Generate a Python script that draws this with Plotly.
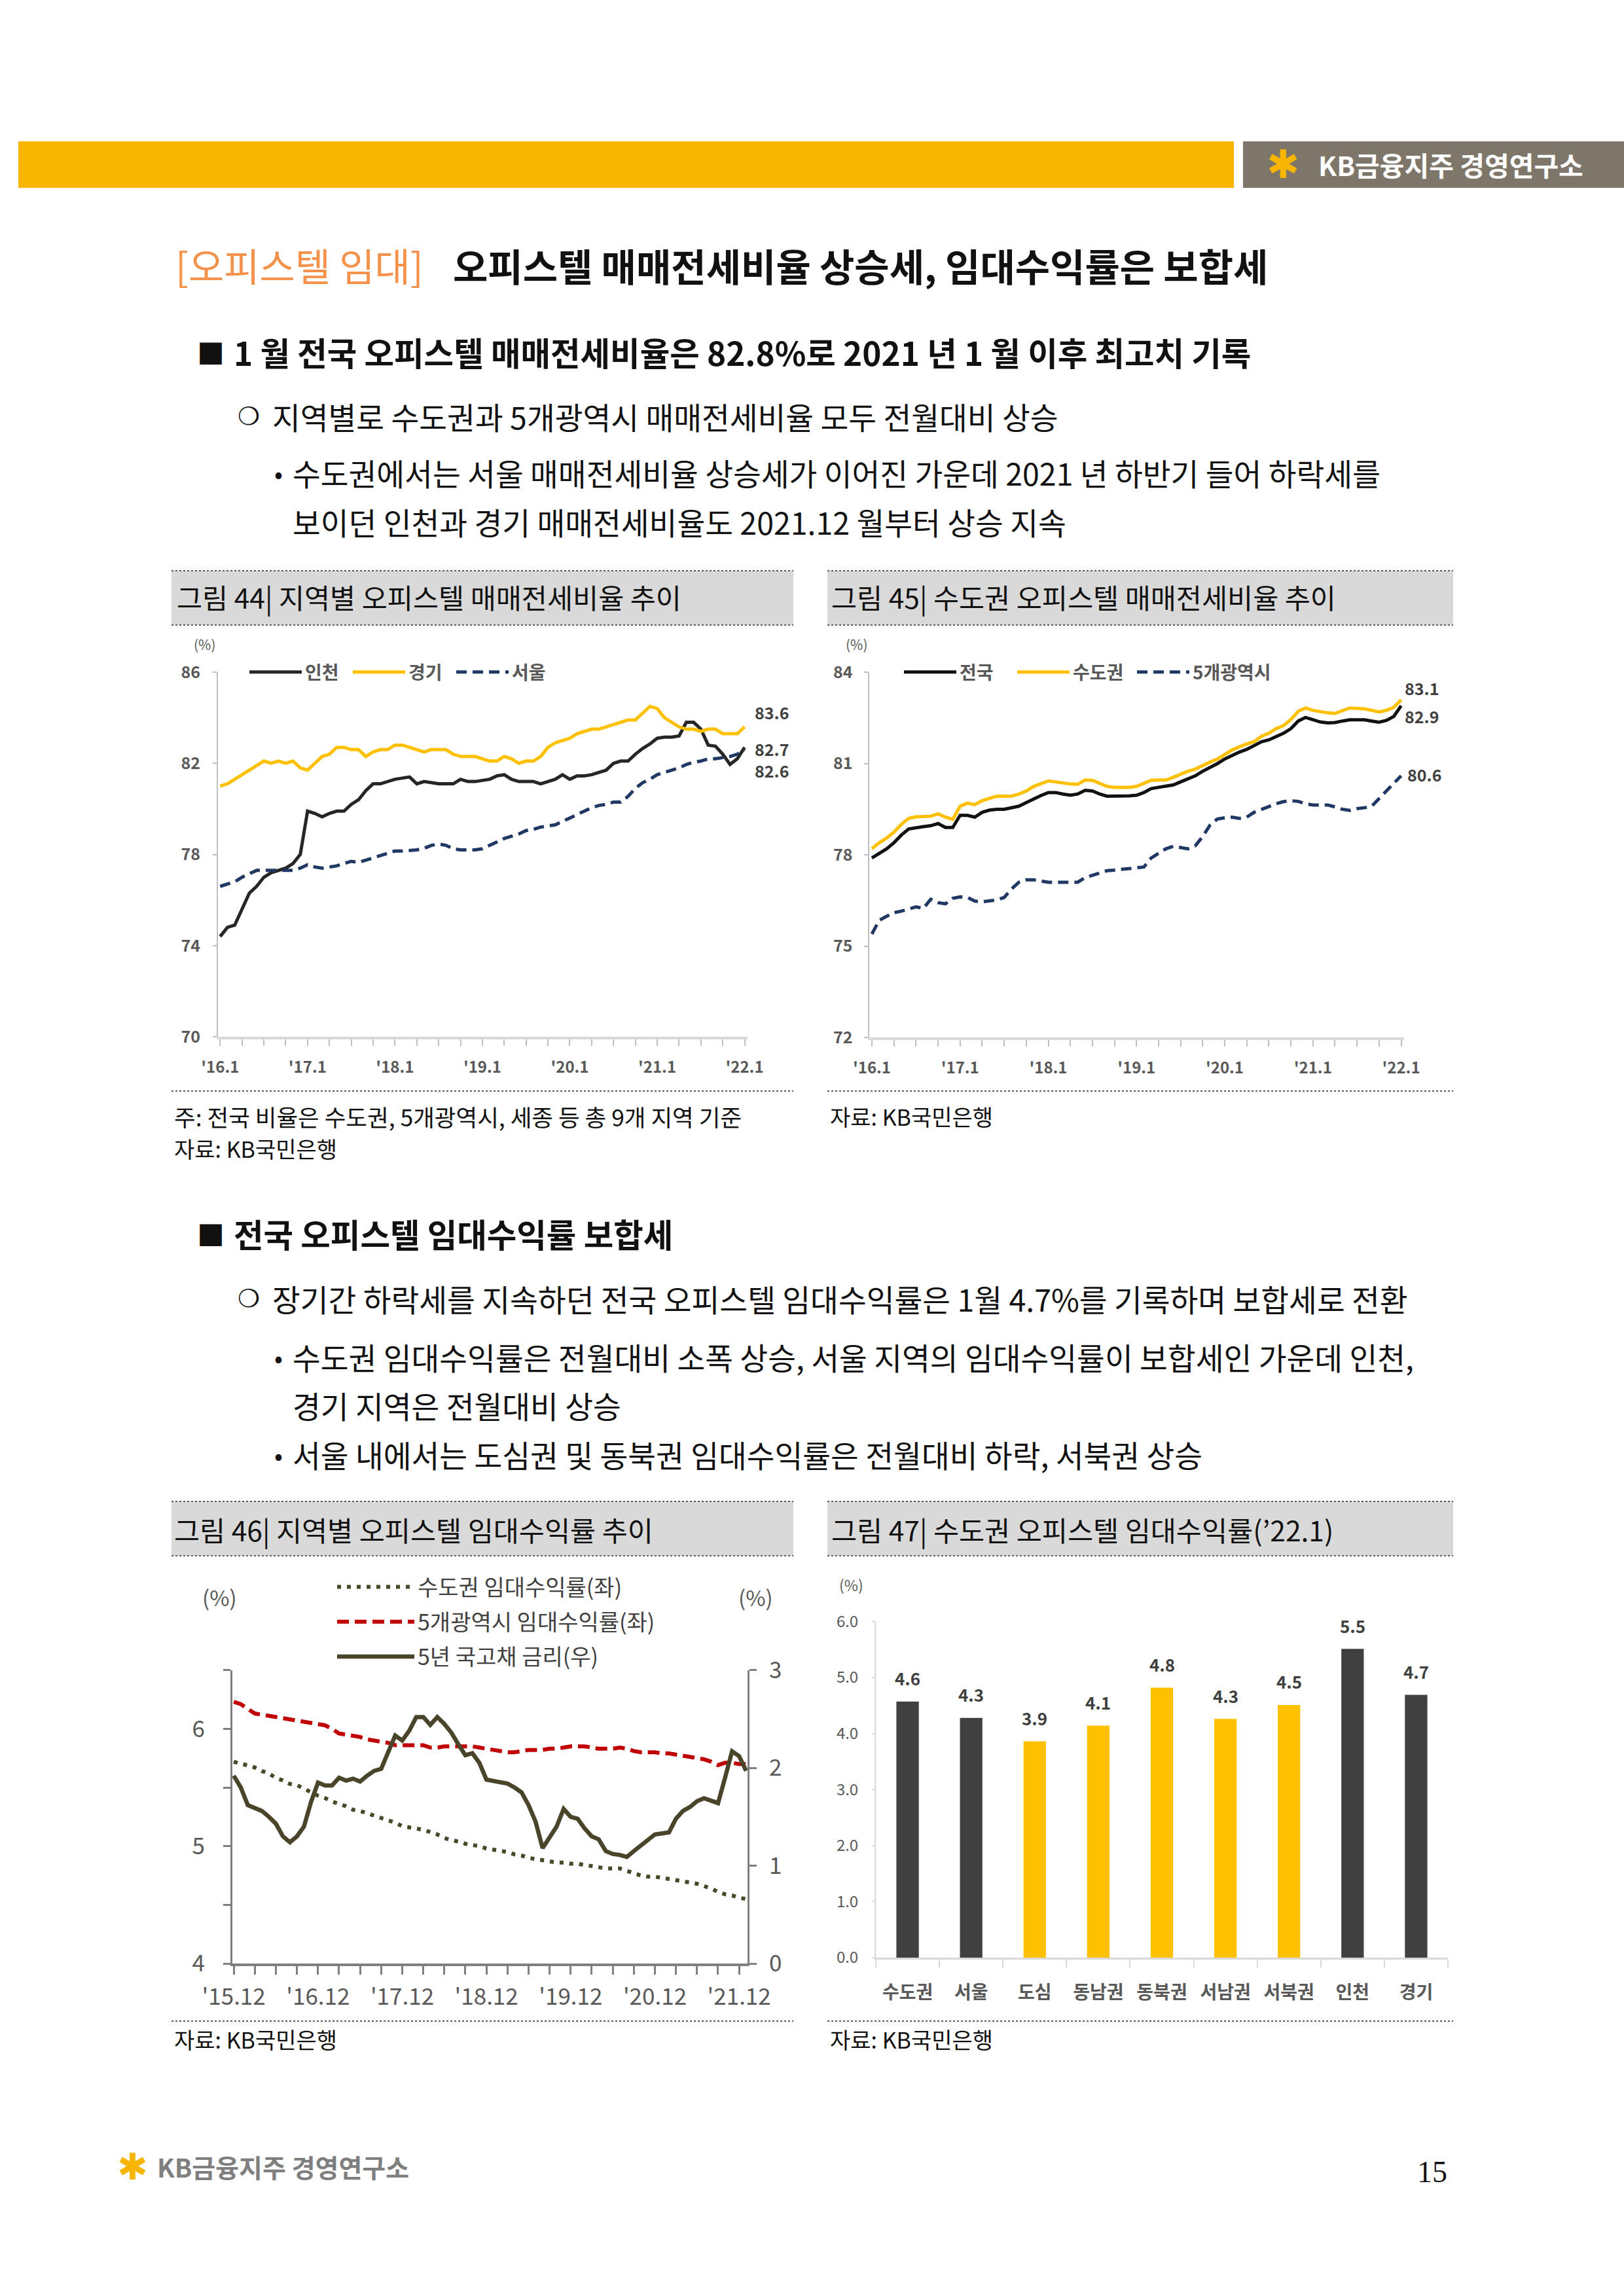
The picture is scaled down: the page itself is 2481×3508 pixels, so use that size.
import plotly.graph_objects as go

W, H = 2481, 3508
KR = "Noto Sans CJK KR"
GRAY = "#595959"


def fx(p):
    return p / W


def fy(p):
    return 1 - p / H


# ---------------- DATA ----------------
months = list(range(73))            # 2016.1 .. 2022.1
month_labels = ["'16.1", "'17.1", "'18.1", "'19.1", "'20.1", "'21.1", "'22.1"]

incheon = [74.4, 74.8, 74.9, 75.6, 76.3, 76.6, 77.0, 77.2, 77.3, 77.4, 77.6, 78.0,
           79.9, 79.8, 79.65, 79.8, 79.9, 79.9, 80.2, 80.4, 80.8, 81.1, 81.1, 81.2,
           81.3, 81.35, 81.4, 81.1, 81.2, 81.15, 81.1, 81.1, 81.1, 81.3, 81.2, 81.2,
           81.25, 81.3, 81.45, 81.5, 81.3, 81.2, 81.2, 81.2, 81.1, 81.2, 81.3, 81.5,
           81.3, 81.45, 81.45, 81.5, 81.6, 81.7, 82.0, 82.1, 82.1, 82.4, 82.65, 82.85,
           83.1, 83.15, 83.15, 83.2, 83.8, 83.8, 83.5, 82.8, 82.75, 82.4, 81.95, 82.2,
           82.7]
gyeonggi = [81.0, 81.1, 81.3, 81.5, 81.7, 81.9, 82.1, 82.0, 82.1, 82.0, 82.1, 81.8,
            81.7, 82.0, 82.3, 82.4, 82.7, 82.7, 82.6, 82.6, 82.3, 82.5, 82.6, 82.6,
            82.8, 82.8, 82.7, 82.6, 82.5, 82.6, 82.6, 82.6, 82.4, 82.3, 82.3, 82.3,
            82.2, 82.1, 82.1, 82.3, 82.2, 82.0, 82.1, 82.1, 82.3, 82.7, 82.9, 83.0,
            83.1, 83.3, 83.4, 83.5, 83.5, 83.6, 83.7, 83.8, 83.9, 83.9, 84.2, 84.5,
            84.4, 84.0, 83.8, 83.6, 83.5, 83.5, 83.4, 83.5, 83.5, 83.3, 83.3, 83.3,
            83.6]
seoul = [76.6, 76.7, 76.8, 77.0, 77.15, 77.3, 77.3, 77.3, 77.3, 77.3, 77.3, 77.4,
         77.55, 77.45, 77.4, 77.45, 77.5, 77.6, 77.7, 77.65, 77.75, 77.85, 77.95, 78.05,
         78.15, 78.15, 78.17, 78.2, 78.27, 78.4, 78.46, 78.4, 78.25, 78.2, 78.2, 78.2,
         78.25, 78.4, 78.56, 78.7, 78.8, 78.9, 79.05, 79.1, 79.2, 79.25, 79.3, 79.45,
         79.6, 79.75, 79.9, 80.05, 80.15, 80.2, 80.3, 80.3, 80.55, 80.9, 81.15, 81.3,
         81.5, 81.6, 81.7, 81.8, 81.95, 82.05, 82.1, 82.2, 82.2, 82.25, 82.3, 82.4,
         82.6]

national = [77.9, 78.05, 78.2, 78.4, 78.65, 78.85, 78.9, 78.93, 78.96, 79.03, 78.9, 78.9,
            79.3, 79.3, 79.24, 79.4, 79.47, 79.5, 79.5, 79.55, 79.6, 79.72, 79.85, 79.95,
            80.05, 80.05, 80.0, 79.96, 80.0, 80.12, 80.1, 80.0, 79.93, 79.93, 79.93, 79.94,
            79.96, 80.05, 80.18, 80.22, 80.25, 80.3, 80.4, 80.5, 80.6, 80.75, 80.87, 81.0,
            81.15, 81.28, 81.38, 81.47, 81.6, 81.72, 81.78, 81.88, 82.0, 82.15, 82.4, 82.52,
            82.45, 82.37, 82.34, 82.35, 82.4, 82.44, 82.44, 82.44, 82.4, 82.36, 82.42, 82.55,
            82.9]
capital = [78.2, 78.4, 78.55, 78.75, 79.0, 79.2, 79.25, 79.27, 79.27, 79.35, 79.24, 79.17,
           79.6, 79.7, 79.65, 79.78, 79.85, 79.93, 79.93, 79.93, 80.0, 80.1, 80.25, 80.35,
           80.43, 80.4, 80.36, 80.33, 80.32, 80.46, 80.45, 80.35, 80.25, 80.22, 80.22, 80.22,
           80.25, 80.35, 80.45, 80.46, 80.46, 80.55, 80.65, 80.75, 80.82, 80.95, 81.05, 81.15,
           81.3, 81.45, 81.55, 81.65, 81.72, 81.9, 82.0, 82.15, 82.25, 82.45, 82.72, 82.83,
           82.75, 82.7, 82.67, 82.65, 82.75, 82.83, 82.82, 82.8, 82.75, 82.7, 82.75, 82.85,
           83.1]
metro5 = [75.4, 75.85, 75.98, 76.1, 76.15, 76.22, 76.29, 76.24, 76.54, 76.43, 76.39, 76.57,
          76.62, 76.6, 76.48, 76.46, 76.5, 76.52, 76.6, 76.88, 77.1, 77.18, 77.18, 77.15,
          77.1, 77.1, 77.1, 77.08, 77.1, 77.25, 77.32, 77.4, 77.48, 77.5, 77.52, 77.54,
          77.56, 77.6, 77.9, 78.05, 78.2, 78.28, 78.25, 78.2, 78.3, 78.6, 78.98, 79.18,
          79.22, 79.24, 79.2, 79.24, 79.4, 79.5, 79.6, 79.68, 79.75, 79.78, 79.76, 79.68,
          79.64, 79.64, 79.64, 79.58, 79.5, 79.46, 79.52, 79.55, 79.6, 79.85, 80.1, 80.35,
          80.6]

months46 = list(range(74))          # 2015.12 .. 2022.1
labels46 = ["'15.12", "'16.12", "'17.12", "'18.12", "'19.12", "'20.12", "'21.12"]
rent_capital = [5.72, 5.70, 5.69, 5.67, 5.64, 5.62, 5.58, 5.56, 5.53, 5.52, 5.49, 5.46,
                5.43, 5.41, 5.38, 5.36, 5.34, 5.31, 5.30, 5.28, 5.26, 5.24, 5.22, 5.20,
                5.17, 5.16, 5.15, 5.14, 5.12, 5.10, 5.07, 5.05, 5.04, 5.02, 5.01, 5.00,
                4.98, 4.97, 4.96, 4.95, 4.93, 4.92, 4.90, 4.89, 4.88, 4.87, 4.86, 4.86,
                4.85, 4.85, 4.84, 4.83, 4.82, 4.81, 4.81, 4.81, 4.79, 4.77, 4.75, 4.74,
                4.74, 4.73, 4.72, 4.71, 4.70, 4.69, 4.68, 4.66, 4.64, 4.61, 4.59, 4.58,
                4.56, 4.55]
rent_metro5 = [6.23, 6.21, 6.17, 6.13, 6.12, 6.11, 6.10, 6.09, 6.08, 6.07, 6.06, 6.05,
               6.04, 6.03, 6.00, 5.96, 5.95, 5.94, 5.93, 5.91, 5.90, 5.89, 5.88, 5.86,
               5.86, 5.86, 5.86, 5.86, 5.84, 5.84, 5.85, 5.85, 5.85, 5.85, 5.85, 5.84,
               5.83, 5.82, 5.81, 5.80, 5.80, 5.81, 5.82, 5.82, 5.82, 5.83, 5.83, 5.84,
               5.85, 5.85, 5.85, 5.84, 5.83, 5.83, 5.83, 5.84, 5.83, 5.81, 5.80, 5.80,
               5.80, 5.79, 5.79, 5.78, 5.77, 5.76, 5.75, 5.74, 5.72, 5.69, 5.71, 5.71,
               5.70, 5.70]
bond5y = [1.92, 1.80, 1.62, 1.59, 1.56, 1.50, 1.43, 1.30, 1.24, 1.30, 1.40, 1.65,
          1.85, 1.82, 1.82, 1.90, 1.87, 1.89, 1.86, 1.92, 1.97, 1.99, 2.15, 2.33,
          2.28, 2.38, 2.52, 2.52, 2.44, 2.52, 2.45, 2.36, 2.24, 2.13, 2.15, 2.05,
          1.88, 1.87, 1.86, 1.84, 1.80, 1.75, 1.62, 1.45, 1.18, 1.30, 1.40, 1.58,
          1.50, 1.48, 1.38, 1.30, 1.27, 1.15, 1.12, 1.11, 1.09, 1.15, 1.21, 1.27,
          1.32, 1.33, 1.34, 1.48, 1.56, 1.60, 1.66, 1.69, 1.67, 1.64, 1.90, 2.17,
          2.12, 1.97]

bar_cats = ["수도권", "서울", "도심", "동남권", "동북권", "서남권", "서북권", "인천", "경기"]
bar_vals = [4.57, 4.28, 3.86, 4.14, 4.82, 4.26, 4.51, 5.51, 4.69]

# ---------------- STYLE ----------------
DARK = "#404040"
YEL = "#FFC000"
NAVY = "#1F3864"
bar_colors = [DARK, DARK, YEL, YEL, YEL, YEL, YEL, DARK, DARK]

fig = go.Figure()

# Chart 44
fig.add_trace(go.Scatter(x=months, y=incheon, name="인천", mode="lines",
                         line=dict(color="#262626", width=5), xaxis="x", yaxis="y", legend="legend"))
fig.add_trace(go.Scatter(x=months, y=gyeonggi, name="경기", mode="lines",
                         line=dict(color=YEL, width=5), xaxis="x", yaxis="y", legend="legend"))
fig.add_trace(go.Scatter(x=months, y=seoul, name="서울", mode="lines",
                         line=dict(color=NAVY, width=5, dash="16px,9px"), xaxis="x", yaxis="y", legend="legend"))
# Chart 45
fig.add_trace(go.Scatter(x=months, y=national, name="전국", mode="lines",
                         line=dict(color="#111111", width=5), xaxis="x2", yaxis="y2", legend="legend2"))
fig.add_trace(go.Scatter(x=months, y=capital, name="수도권", mode="lines",
                         line=dict(color=YEL, width=5), xaxis="x2", yaxis="y2", legend="legend2"))
fig.add_trace(go.Scatter(x=months, y=metro5, name="5개광역시", mode="lines",
                         line=dict(color=NAVY, width=5, dash="16px,9px"), xaxis="x2", yaxis="y2", legend="legend4"))
# Chart 46
fig.add_trace(go.Scatter(x=months46, y=rent_capital, name="수도권 임대수익률(좌)", mode="lines",
                         line=dict(color="#4A4628", width=6, dash="6px,9px"), xaxis="x3", yaxis="y3",
                         legend="legend3", legendgroup="a"))
fig.add_trace(go.Scatter(x=months46, y=rent_metro5, name="5개광역시 임대수익률(좌)", mode="lines",
                         line=dict(color="#C00000", width=6, dash="18px,9px"), xaxis="x3", yaxis="y3",
                         legend="legend3", legendgroup="b"))
fig.add_trace(go.Scatter(x=months46, y=bond5y, name="5년 국고채 금리(우)", mode="lines",
                         line=dict(color="#4A452A", width=6.5), xaxis="x3", yaxis="y4",
                         legend="legend3", legendgroup="c"))
# Chart 47
fig.add_trace(go.Bar(x=bar_cats, y=bar_vals, marker=dict(color=bar_colors, line=dict(width=0)),
                     cliponaxis=False, xaxis="x4", yaxis="y5", showlegend=False))

tf_bold = dict(family=KR, size=24, color=GRAY, weight="bold")
tick_style = dict(ticks="outside", tickcolor="#BFBFBF", tickwidth=2)
f46 = dict(family=KR, size=35, color=GRAY)
leg_font = dict(family=KR, size=28, color=GRAY, weight="bold")

layout = dict(
    width=W, height=H, autosize=False,
    margin=dict(l=0, r=0, t=0, b=0, pad=0, autoexpand=False),
    paper_bgcolor="white", plot_bgcolor="rgba(0,0,0,0)",
    bargap=0.647,
    xaxis=dict(domain=[fx(333), fx(1142)], range=[-0.3, 72.4], anchor="y", automargin=False,
               showgrid=False, zeroline=False, showline=True, linecolor="#D9D9D9", linewidth=4,
               tickmode="array", tickvals=months[::12], ticktext=month_labels, ticklen=10,
               minor=dict(tickmode="linear", tick0=0, dtick=3, ticks="outside", ticklen=10,
                          tickcolor="#BFBFBF", tickwidth=2),
               tickfont=tf_bold, ticklabelstandoff=12, **tick_style),
    yaxis=dict(domain=[fy(1584), fy(1027)], range=[70, 86], anchor="x", tick0=70, dtick=4, automargin=False,
               showgrid=False, zeroline=False, showline=True, linecolor="#BFBFBF", linewidth=2,
               ticklen=6, tickfont=dict(family=KR, size=25, color=GRAY, weight="bold"),
               ticklabelstandoff=14, **tick_style),
    xaxis2=dict(domain=[fx(1327.5), fx(2145)], range=[-0.4, 72.4], anchor="y2", automargin=False,
                showgrid=False, zeroline=False, showline=True, linecolor="#D9D9D9", linewidth=4,
                tickmode="array", tickvals=months[::12], ticktext=month_labels, ticklen=10,
                minor=dict(tickmode="linear", tick0=0, dtick=3, ticks="outside", ticklen=10,
                           tickcolor="#BFBFBF", tickwidth=2),
                tickfont=tf_bold, ticklabelstandoff=12, **tick_style),
    yaxis2=dict(domain=[fy(1585), fy(1027.3)], range=[72, 84], anchor="x2", tick0=72, dtick=3, automargin=False,
                showgrid=False, zeroline=False, showline=True, linecolor="#BFBFBF", linewidth=2,
                ticklen=6, tickfont=dict(family=KR, size=25, color=GRAY, weight="bold"),
                ticklabelstandoff=12, **tick_style),
    xaxis3=dict(domain=[fx(355), fx(1142)], range=[-0.2, 73.2], anchor="y3", automargin=False,
                showgrid=False, zeroline=False, showline=True, linecolor="#7F7F7F", linewidth=4,
                tickmode="array", tickvals=months46[:73:12], ticktext=labels46,
                ticks="outside", ticklen=13, tickcolor="#7F7F7F", tickwidth=3,
                minor=dict(tickmode="linear", tick0=0, dtick=3, ticks="outside", ticklen=13,
                           tickcolor="#7F7F7F", tickwidth=3),
                tickfont=f46, ticklabelstandoff=4),
    yaxis3=dict(domain=[fy(3000), fy(2551.7)], range=[4, 6.5], anchor="x3", automargin=False,
                tickmode="array", tickvals=[4, 4.5, 5, 5.5, 6, 6.5], ticktext=["4", "", "5", "", "6", ""],
                showgrid=False, zeroline=False, showline=True, linecolor="#7F7F7F", linewidth=3,
                ticks="outside", ticklen=11, tickcolor="#7F7F7F", tickwidth=3,
                tickfont=f46, ticklabelstandoff=21),
    yaxis4=dict(domain=[fy(3000), fy(2551.7)], range=[0, 3], anchor="x3", overlaying="y3", side="right",
                automargin=False,
                dtick=1, showgrid=False, zeroline=False, showline=True, linecolor="#7F7F7F", linewidth=3,
                ticks="outside", ticklen=11, tickcolor="#7F7F7F", tickwidth=3,
                tickfont=f46, ticklabelstandoff=12),
    xaxis4=dict(domain=[fx(1338), fx(2212)], anchor="y5", type="category", automargin=False,
                showgrid=False, zeroline=False, showline=True, linecolor="#D9D9D9", linewidth=3,
                tickson="boundaries", ticks="outside", ticklen=12, tickcolor="#D9D9D9", tickwidth=2,
                tickfont=dict(family=KR, size=28, color=GRAY, weight="bold"), ticklabelstandoff=26),
    yaxis5=dict(domain=[fy(2991), fy(2477.4)], range=[0, 6], anchor="x4", dtick=1, tickformat=".1f",
                automargin=False,
                showgrid=False, zeroline=False, showline=True, linecolor="#D9D9D9", linewidth=2,
                ticks="outside", ticklen=4, tickcolor="#D9D9D9", tickwidth=2,
                tickfont=dict(family=KR, size=24, color=GRAY), ticklabelstandoff=16),
    legend=dict(orientation="h", x=fx(376), y=fy(1027), xanchor="left", yanchor="middle",
                font=leg_font, itemwidth=80,
                bgcolor="rgba(0,0,0,0)", entrywidth=63, entrywidthmode="pixels"),
    legend2=dict(orientation="h", x=fx(1376), y=fy(1027), xanchor="left", yanchor="middle",
                 font=leg_font, itemwidth=80,
                 bgcolor="rgba(0,0,0,0)", entrywidth=78, entrywidthmode="pixels"),
    legend4=dict(orientation="h", x=fx(1732), y=fy(1027), xanchor="left", yanchor="middle",
                 font=leg_font, itemwidth=80, bgcolor="rgba(0,0,0,0)"),
    legend3=dict(orientation="v", x=fx(510), y=fy(2396), xanchor="left", yanchor="top",
                 font=dict(family=KR, size=34, color="#404040"), itemwidth=118, tracegroupgap=6,
                 bgcolor="rgba(0,0,0,0)"),
)
fig.update_layout(**layout)

# ---------------- SHAPES ----------------
shapes = []
shapes.append(dict(type="rect", xref="paper", yref="paper", x0=fx(28), x1=fx(1885), y0=fy(287), y1=fy(216),
                   fillcolor="#F7B500", line=dict(width=0), layer="below"))
shapes.append(dict(type="rect", xref="paper", yref="paper", x0=fx(1899), x1=1, y0=fy(287), y1=fy(216),
                   fillcolor="#7F766A", line=dict(width=0), layer="below"))
boxes = [(262, 1212, 872, 955), (1264, 2220, 872, 955), (262, 1212, 2294, 2377), (1264, 2220, 2294, 2377)]
for x0, x1, y0, y1 in boxes:
    shapes.append(dict(type="rect", xref="paper", yref="paper", x0=fx(x0), x1=fx(x1), y0=fy(y1), y1=fy(y0),
                       fillcolor="#D9D9D9", line=dict(width=0), layer="below"))
    for yy in (y0, y1):
        shapes.append(dict(type="line", xref="paper", yref="paper", x0=fx(x0), x1=fx(x1), y0=fy(yy), y1=fy(yy),
                           line=dict(color="#595959", width=2, dash="dot")))
for x0, x1, yy in [(262, 1212, 1667), (1264, 2220, 1667), (262, 1212, 3088), (1264, 2220, 3088)]:
    shapes.append(dict(type="line", xref="paper", yref="paper", x0=fx(x0), x1=fx(x1), y0=fy(yy), y1=fy(yy),
                       line=dict(color="#595959", width=2, dash="dot")))
fig.update_layout(shapes=shapes)

# ---------------- ANNOTATIONS ----------------
anns = []


def txt(s, x, y, size, color="#111111", bold=False, xanchor="left", family=KR):
    anns.append(dict(text=s, x=fx(x), y=fy(y), xref="paper", yref="paper", showarrow=False,
                     xanchor=xanchor, yanchor="middle",
                     font=dict(family=family, size=size, color=color, weight="bold" if bold else "normal")))


BODY = 46.5
HEAD = 49.5
# header logo
txt("✱", 1960, 251, 60, color="#F7B500", xanchor="center", family="DejaVu Sans")
txt("KB금융지주 경영연구소", 2012, 251, 41, color="white", bold=True)
# title
txt("[오피스텔 임대]", 266, 405, 59, color="#F4914A")
txt("오피스텔 매매전세비율 상승세, 임대수익률은 보합세", 690, 405, 58, bold=True)
# section 1
txt("■", 299, 537, 42, bold=True)
txt("1 월 전국 오피스텔 매매전세비율은 82.8%로 2021 년 1 월 이후 최고치 기록", 355, 537, HEAD, bold=True)
txt("❍", 380, 636, 38, xanchor="center", family="DejaVu Sans")
txt("지역별로 수도권과 5개광역시 매매전세비율 모두 전월대비 상승", 414, 636, BODY)
txt("•", 425, 722, 38, xanchor="center")
txt("수도권에서는 서울 매매전세비율 상승세가 이어진 가운데 2021 년 하반기 들어 하락세를", 445, 722, BODY)
txt("보이던 인천과 경기 매매전세비율도 2021.12 월부터 상승 지속", 445, 796, BODY)

# chart 44/45 headers and notes
txt("그림 44| 지역별 오피스텔 매매전세비율 추이", 268, 912, 42.5)
txt("그림 45| 수도권 오피스텔 매매전세비율 추이", 1268, 912, 42.5)
txt("(%)", 313, 984, 21, color=GRAY, xanchor="center")
txt("(%)", 1309, 984, 21, color=GRAY, xanchor="center")
txt("주: 전국 비율은 수도권, 5개광역시, 세종 등 총 9개 지역 기준", 264, 1705, 35.5)
txt("자료: KB국민은행", 264, 1754, 34)
txt("자료: KB국민은행", 1266, 1705, 34)


# end-point value labels (chart 44 / 45)
def endlab(series, xa, ya, yshift, xshift):
    anns.append(dict(text=f"{series[-1]:.1f}", x=len(series) - 1, y=series[-1], xref=xa, yref=ya,
                     showarrow=False, xanchor="left", yanchor="middle", xshift=xshift, yshift=yshift,
                     font=dict(family=KR, size=25, color=DARK, weight="bold")))


endlab(gyeonggi, "x", "y", 23, 13)
endlab(incheon, "x", "y", -2, 13)
endlab(seoul, "x", "y", -32, 13)
endlab(capital, "x2", "y2", 18, 3)
endlab(national, "x2", "y2", -16, 3)
endlab(metro5, "x2", "y2", 2, 7)

# bar value labels (chart 47)
for c, v in zip(bar_cats, bar_vals):
    anns.append(dict(text=f"{v:.1f}", x=c, y=v, xref="x4", yref="y5", showarrow=False,
                     xanchor="center", yanchor="middle", yshift=36,
                     font=dict(family=KR, size=26, color=DARK, weight="bold")))

# section 2
txt("■", 299, 1884, 42, bold=True)
txt("전국 오피스텔 임대수익률 보합세", 355, 1884, HEAD, bold=True)
txt("❍", 380, 1984, 38, xanchor="center", family="DejaVu Sans")
txt("장기간 하락세를 지속하던 전국 오피스텔 임대수익률은 1월 4.7%를 기록하며 보합세로 전환", 414, 1984, BODY)
txt("•", 425, 2072, 38, xanchor="center")
txt("수도권 임대수익률은 전월대비 소폭 상승, 서울 지역의 임대수익률이 보합세인 가운데 인천,", 445, 2072, BODY)
txt("경기 지역은 전월대비 상승", 445, 2146, BODY)
txt("•", 425, 2221, 38, xanchor="center")
txt("서울 내에서는 도심권 및 동북권 임대수익률은 전월대비 하락, 서북권 상승", 445, 2221, BODY)

# chart 46/47 headers and notes
txt("그림 46| 지역별 오피스텔 임대수익률 추이", 264, 2336, 42.5)
txt("그림 47| 수도권 오피스텔 임대수익률(’22.1)", 1268, 2336, 42.5)
txt("(%)", 335, 2440, 33, color=GRAY, xanchor="center")
txt("(%)", 1154, 2440, 33, color=GRAY, xanchor="center")
txt("(%)", 1300, 2421, 23, color=GRAY, xanchor="center")
txt("자료: KB국민은행", 264, 3115, 34)
txt("자료: KB국민은행", 1266, 3115, 34)

# footer
txt("✱", 202, 3310, 56, color="#F7B500", xanchor="center", family="DejaVu Sans")
txt("KB금융지주 경영연구소", 238, 3310, 39, color="#7F7F7F", bold=True)
txt("15", 2188, 3318, 46, color="#111111", xanchor="center", family="Liberation Serif")

fig.update_layout(annotations=anns)

fig.write_html("out.html", config={"displayModeBar": False},
               post_script="document.body.style.margin='0';document.body.style.overflow='hidden';")
